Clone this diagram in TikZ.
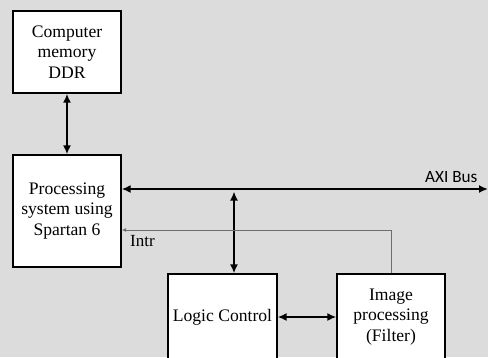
\documentclass[tikz,border=0pt]{standalone}
\usepackage{fontspec}
\setmainfont{Liberation Serif}
\newfontfamily\axifont{Carlito}
\usetikzlibrary{arrows.meta}
\definecolor{bggray}{HTML}{DCDCDC}
\definecolor{thingray}{HTML}{6E6E6E}
\begin{document}
\begin{tikzpicture}[x=1pt,y=-1pt,
  box/.style={draw=black,line width=1.3pt,fill=white,align=center,inner sep=0pt,
    font=\fontsize{17.6}{20.8}\selectfont},
  bus/.style={line width=2pt,{Latex[length=9pt,width=8pt]}-{Latex[length=9pt,width=8pt]}},
  intr/.style={draw=thingray,line width=0.9pt,-{Latex[length=4.5pt,width=4pt]}},
  lbl/.style={font=\fontsize{17}{20}\selectfont,inner sep=0pt}]
\fill[bggray] (0,0) rectangle (488,357);
\useasboundingbox (0,0) rectangle (488,357);
\clip (0,0) rectangle (488,357);
\node[box,minimum width=108pt,minimum height=82pt] (mem) at (67,52) {Computer\\memory\\DDR};
\node[box,minimum width=108pt,minimum height=112pt] (proc) at (67,211) {Processing\\system using\\Spartan 6};
\node[box,minimum width=109pt,minimum height=86pt] (logic) at (222.5,317) {Logic Control};
\node[box,minimum width=108pt,minimum height=86pt] (img) at (391,317) {Image\\processing\\(Filter)};
\coordinate (busL) at (proc.east |- 0,189);
\coordinate (busR) at (488,189);
\coordinate (vtop) at (234,191.5);
\coordinate (vbot) at (logic.north -| vtop);
\coordinate (intrL) at (proc.east |- 0,230);
\coordinate (intrC) at (img.north |- intrL);
\draw[bus] (busL) -- (busR);
\draw[bus] (vtop) -- (vbot);
\draw[bus] (mem.south) -- (proc.north);
\draw[bus] (logic.east) -- (img.west);
\draw[intr] (img.north) -- (intrC) -- (intrL);
\node[lbl,font=\axifont\fontsize{17.2}{20}\selectfont,anchor=base west] (axi) at (425,182) {AXI Bus};
\node[lbl,anchor=base west] (intrlbl) at (130,246) {Intr};
\end{tikzpicture}
\end{document}
